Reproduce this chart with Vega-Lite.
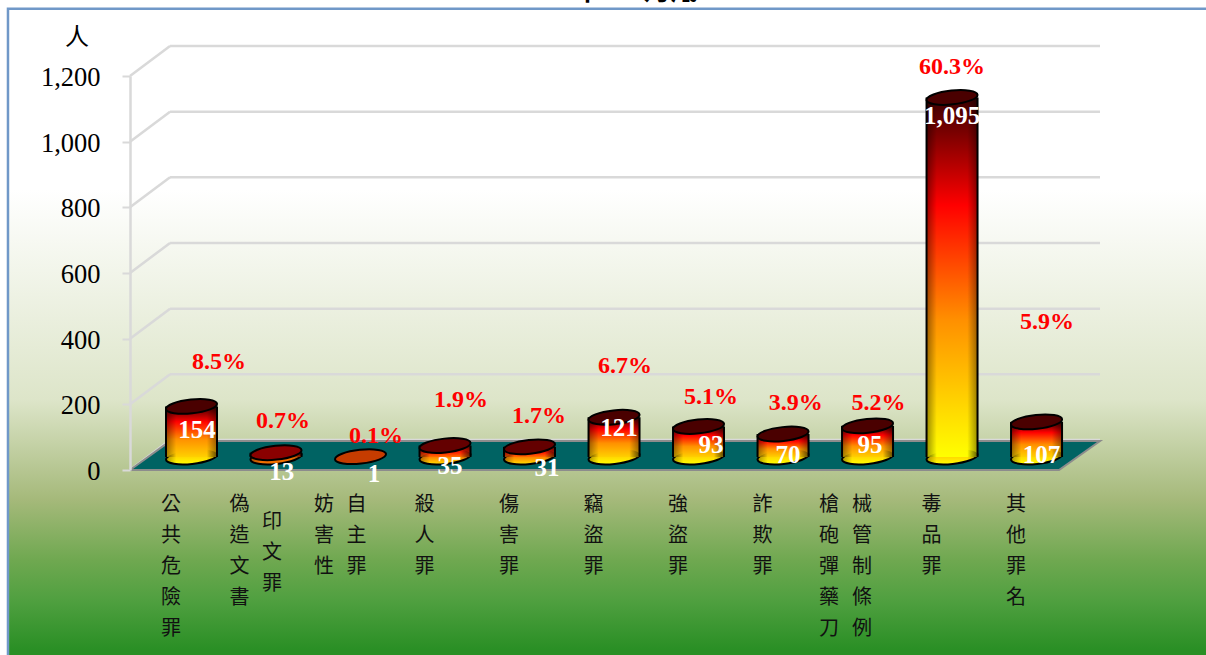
{
"$schema":"https://vega.github.io/schema/vega-lite/v6.json",
"width":970,"height":394,"autosize":"none",
"padding":{"left":130,"top":76,"right":106,"bottom":185},
"background":"#ffffff",
"config":{"view":{"stroke":null},"axisX":{"disable":true},
 "style":{
  "cnt":{"font":"Liberation Serif","fontSize":25,"fontWeight":"bold","color":"#ffffff","fill":"#ffffff","align":"center","baseline":"middle"},
  "pct":{"font":"Liberation Serif","fontSize":24,"fontWeight":"bold","color":"#ff0000","fill":"#ff0000","align":"center","baseline":"middle"},
  "cat":{"font":"Noto Sans CJK TC","fontSize":20,"color":"#111111","fill":"#111111","align":"center","baseline":"top","lineHeight":31,"lineBreak":"\n"}
 }},
"datasets":{
 "crimes":[
  {"i":0,"name":"公共危險罪","v":154,"pct":"8.5%","col1":"公\n共\n危\n險\n罪","col2":""},
  {"i":1,"name":"偽造文書印文罪","v":13,"pct":"0.7%","col1":"偽\n造\n文\n書","col2":"印\n文\n罪"},
  {"i":2,"name":"妨害性自主罪","v":1,"pct":"0.1%","col1":"妨\n害\n性","col2":"自\n主\n罪"},
  {"i":3,"name":"殺人罪","v":35,"pct":"1.9%","col1":"殺\n人\n罪","col2":""},
  {"i":4,"name":"傷害罪","v":31,"pct":"1.7%","col1":"傷\n害\n罪","col2":""},
  {"i":5,"name":"竊盜罪","v":121,"pct":"6.7%","col1":"竊\n盜\n罪","col2":""},
  {"i":6,"name":"強盜罪","v":93,"pct":"5.1%","col1":"強\n盜\n罪","col2":""},
  {"i":7,"name":"詐欺罪","v":70,"pct":"3.9%","col1":"詐\n欺\n罪","col2":""},
  {"i":8,"name":"槍砲彈藥刀械管制條例","v":95,"pct":"5.2%","col1":"槍\n砲\n彈\n藥\n刀","col2":"械\n管\n制\n條\n例"},
  {"i":9,"name":"毒品罪","v":1095,"pct":"60.3%","col1":"毒\n品\n罪","col2":""},
  {"i":10,"name":"其他罪名","v":107,"pct":"5.9%","col1":"其\n他\n罪\n名","col2":""}
 ],
 "levels":[{"level":0},{"level":200},{"level":400},{"level":600},{"level":800},{"level":1000},{"level":1200}],
 "floor":[{"fx":-0.728,"lo":0,"hi":0},{"fx":-0.254,"lo":0,"hi":88},{"fx":10.266,"lo":0,"hi":88},{"fx":10.751,"lo":88,"hi":88}]
},
"data":{"name":"crimes"},
"layer":[
 {"data":{"values":[{"a":1}]},
  "mark":{"type":"rect","stroke":"#7098c8","strokeWidth":2.5,"fill":{"gradient":"linear","x1":0,"y1":0,"x2":0,"y2":1,"stops":[{"offset":0,"color":"#ffffff"},{"offset":0.275,"color":"#ffffff"},{"offset":0.594,"color":"#dde5c9"},{"offset":0.746,"color":"#a5b97a"},{"offset":0.838,"color":"#6fa850"},{"offset":0.898,"color":"#50a040"},{"offset":0.973,"color":"#2a8f25"}]}},
  "encoding":{
   "x":{"datum":-2.172,"type":"quantitative","scale":{"domain":[-0.728,10.751],"nice":false,"zero":false,"padding":0}},
   "x2":{"datum":12.08},
   "y":{"datum":1405,"type":"quantitative","scale":{"domain":[0,1200],"nice":false,"zero":false}},
   "y2":{"datum":-600}
  }},
 {"data":{"name":"levels"},
  "mark":{"type":"rule","color":"#d9d9d9","strokeWidth":2.5,"yOffset":-30},
  "encoding":{
   "x":{"datum":-0.254,"type":"quantitative","scale":{"domain":[-0.728,10.751],"nice":false,"zero":false,"padding":0}},
   "x2":{"datum":10.751},
   "y":{"field":"level","type":"quantitative","scale":{"domain":[0,1200],"nice":false,"zero":false}}
  }},
 {"data":{"name":"levels"},
  "mark":{"type":"rule","color":"#d9d9d9","strokeWidth":2.5,"y2Offset":-30},
  "encoding":{
   "x":{"datum":-0.728,"type":"quantitative","scale":{"domain":[-0.728,10.751],"nice":false,"zero":false,"padding":0}},
   "x2":{"datum":-0.254},
   "y":{"field":"level","type":"quantitative","scale":{"domain":[0,1200],"nice":false,"zero":false}},
   "y2":{"field":"level"}
  }},
 {"data":{"name":"floor"},
  "mark":{"type":"area","orient":"vertical","color":"#006363","stroke":"#8c8c8c","strokeWidth":2,"opacity":1},
  "encoding":{
   "x":{"field":"fx","type":"quantitative","scale":{"domain":[-0.728,10.751],"nice":false,"zero":false,"padding":0}},
   "y":{"field":"hi","type":"quantitative","scale":{"domain":[0,1200],"nice":false,"zero":false}},
   "y2":{"field":"lo"}
  }},
 {"encoding":{
  "x":{"field":"i","type":"quantitative","scale":{"domain":[-0.728,10.751],"nice":false,"zero":false,"padding":0}},
  "y":{"field":"v","type":"quantitative","scale":{"domain":[0,1200],"nice":false,"zero":false},"title":null,
   "axis":{"zindex":1,"values":[0,200,400,600,800,1000,1200],"format":",d","grid":false,"title":null,"domainColor":"#d9d9d9","domainWidth":2.5,"tickColor":"#d9d9d9","tickWidth":2,"tickSize":8,"labelFont":"Liberation Serif","labelFontSize":26.5,"labelColor":"#000000","labelPadding":22,"labelOffset":1.5}}
 },
 "layer":[
 {"layer":[
  {"transform":[{"filter":"datum.v>=70"}],
   "mark":{"type":"point","shape":"M.9945,-.105C1.01,.043 .5776,.2105 .0283,.2685C-.521,.3265 -.979,.2533 -.9945,.105C-1.01,-.043 -.5776,-.2105 -.0283,-.2685C.521,-.3265 .979,-.2533 .9945,-.105Z","size":2632,"filled":true,"opacity":1,"fill":{"gradient":"linear","x1":0,"y1":0,"x2":0,"y2":1,"stops":[{"offset":0.4,"color":"#ffd000"},{"offset":1,"color":"#ffff00"}]},"stroke":"#000000","strokeWidth":2,"yOffset":-13},
   "encoding":{"y":{"datum":0,"type":"quantitative","scale":{"domain":[0,1200],"nice":false,"zero":false}}}},
  {"transform":[{"filter":"datum.v>=20 && datum.v<70"}],
   "mark":{"type":"point","shape":"M.9945,-.105C1.01,.043 .5776,.2105 .0283,.2685C-.521,.3265 -.979,.2533 -.9945,.105C-1.01,-.043 -.5776,-.2105 -.0283,-.2685C.521,-.3265 .979,-.2533 .9945,-.105Z","size":2632,"filled":true,"opacity":1,"fill":{"gradient":"linear","x1":0,"y1":0,"x2":0,"y2":1,"stops":[{"offset":0.4,"color":"#ff7000"},{"offset":1,"color":"#ffe000"}]},"stroke":"#000000","strokeWidth":2,"yOffset":-13},
   "encoding":{"y":{"datum":0,"type":"quantitative","scale":{"domain":[0,1200],"nice":false,"zero":false}}}},
  {"transform":[{"filter":"datum.v==13"}],
   "mark":{"type":"point","shape":"M.9945,-.105C1.01,.043 .5776,.2105 .0283,.2685C-.521,.3265 -.979,.2533 -.9945,.105C-1.01,-.043 -.5776,-.2105 -.0283,-.2685C.521,-.3265 .979,-.2533 .9945,-.105Z","size":2632,"filled":true,"opacity":1,"fill":"#f07000","stroke":"#000000","strokeWidth":2,"yOffset":-13},
   "encoding":{"y":{"datum":0,"type":"quantitative","scale":{"domain":[0,1200],"nice":false,"zero":false}}}},
  {"transform":[{"filter":"datum.v>=70 && datum.v<500"}],
   "mark":{"type":"bar","orient":"vertical","size":51,"yOffset":-13,"y2Offset":-13,"fill":{"gradient":"linear","x1":0,"y1":0,"x2":0,"y2":1,"stops":[{"offset":0,"color":"#3a0000"},{"offset":0.3,"color":"#ff0000"},{"offset":0.65,"color":"#ff9000"},{"offset":1,"color":"#ffd000"}]}},
   "encoding":{"y2":{"datum":0}}},
  {"transform":[{"filter":"datum.v>=500"}],
   "mark":{"type":"bar","orient":"vertical","size":51,"yOffset":-13,"y2Offset":-13,"fill":{"gradient":"linear","x1":0,"y1":0,"x2":0,"y2":1,"stops":[{"offset":0,"color":"#3a0000"},{"offset":0.3,"color":"#ff0000"},{"offset":0.62,"color":"#ff9000"},{"offset":0.88,"color":"#ffdd00"},{"offset":1,"color":"#ffff00"}]}},
   "encoding":{"y2":{"datum":0}}},
  {"transform":[{"filter":"datum.v>=13 && datum.v<70"}],
   "mark":{"type":"bar","orient":"vertical","size":51,"yOffset":-13,"y2Offset":-13,"fill":{"gradient":"linear","x1":0,"y1":0,"x2":0,"y2":1,"stops":[{"offset":0,"color":"#8a0000"},{"offset":0.6,"color":"#ff2000"},{"offset":1,"color":"#ff7000"}]}},
   "encoding":{"y2":{"datum":0}}},
  {"transform":[{"filter":"datum.v>=13"}],
   "mark":{"type":"bar","orient":"vertical","size":51,"yOffset":-13,"y2Offset":-13,"fill":{"gradient":"linear","x1":0,"y1":0,"x2":1,"y2":0,"stops":[{"offset":0,"color":"rgba(0,0,0,0.4)"},{"offset":0.2,"color":"rgba(0,0,0,0)"},{"offset":0.8,"color":"rgba(0,0,0,0)"},{"offset":1,"color":"rgba(0,0,0,0.4)"}]}},
   "encoding":{"y2":{"datum":0}}},
  {"transform":[{"filter":"datum.v>=13"}],
   "mark":{"type":"point","shape":"M.9945,-.105C1.01,.043 .5776,.2105 .0283,.2685C-.521,.3265 -.979,.2533 -.9945,.105C-1.01,-.043 -.5776,-.2105 -.0283,-.2685C.521,-.3265 .979,-.2533 .9945,-.105Z","size":2632,"filled":true,"opacity":1,"strokeWidth":0,"fill":{"gradient":"linear","x1":0,"y1":0,"x2":1,"y2":0,"stops":[{"offset":0,"color":"rgba(0,0,0,0.35)"},{"offset":0.2,"color":"rgba(0,0,0,0)"},{"offset":0.8,"color":"rgba(0,0,0,0)"},{"offset":1,"color":"rgba(0,0,0,0.35)"}]},"yOffset":-13},
   "encoding":{"y":{"datum":0,"type":"quantitative","scale":{"domain":[0,1200],"nice":false,"zero":false}}}},
  {"transform":[{"filter":"datum.v>=13"}],"mark":{"type":"rule","color":"#000000","strokeWidth":2,"xOffset":-25.5,"yOffset":-13,"y2Offset":-13},"encoding":{"y2":{"datum":0}}},
  {"transform":[{"filter":"datum.v>=13"}],"mark":{"type":"rule","color":"#000000","strokeWidth":2,"xOffset":25.5,"yOffset":-13,"y2Offset":-13},"encoding":{"y2":{"datum":0}}},
  {"transform":[{"filter":"datum.v>=70"}],
   "mark":{"type":"point","shape":"M.9945,-.105C1.01,.043 .5776,.2105 .0283,.2685C-.521,.3265 -.979,.2533 -.9945,.105C-1.01,-.043 -.5776,-.2105 -.0283,-.2685C.521,-.3265 .979,-.2533 .9945,-.105Z","size":2632,"filled":true,"opacity":1,"fill":"#4a0000","stroke":"#000000","strokeWidth":2,"yOffset":-13}},
  {"transform":[{"filter":"datum.v>=20 && datum.v<70"}],
   "mark":{"type":"point","shape":"M.9945,-.105C1.01,.043 .5776,.2105 .0283,.2685C-.521,.3265 -.979,.2533 -.9945,.105C-1.01,-.043 -.5776,-.2105 -.0283,-.2685C.521,-.3265 .979,-.2533 .9945,-.105Z","size":2632,"filled":true,"opacity":1,"fill":"#640000","stroke":"#000000","strokeWidth":2,"yOffset":-13}},
  {"transform":[{"filter":"datum.v==13"}],
   "mark":{"type":"point","shape":"M.9945,-.105C1.01,.043 .5776,.2105 .0283,.2685C-.521,.3265 -.979,.2533 -.9945,.105C-1.01,-.043 -.5776,-.2105 -.0283,-.2685C.521,-.3265 .979,-.2533 .9945,-.105Z","size":2632,"filled":true,"opacity":1,"fill":"#8a0000","stroke":"#000000","strokeWidth":2,"yOffset":-13}},
  {"transform":[{"filter":"datum.v==1"}],
   "mark":{"type":"point","shape":"M.9945,-.105C1.01,.043 .5776,.2105 .0283,.2685C-.521,.3265 -.979,.2533 -.9945,.105C-1.01,-.043 -.5776,-.2105 -.0283,-.2685C.521,-.3265 .979,-.2533 .9945,-.105Z","size":2632,"filled":true,"opacity":1,"fill":"#c63c00","stroke":"#000000","strokeWidth":2,"yOffset":-13}}
 ]},
 {"encoding":{"text":{"field":"v","format":",d"}},
  "layer":[
  {"transform":[{"filter":"datum.i==0"}],"mark":{"type":"text","style":"cnt","dx":5.5,"dy":10.6}},
  {"transform":[{"filter":"datum.i==1"}],"mark":{"type":"text","style":"cnt","dx":5.7,"dy":6.6}},
  {"transform":[{"filter":"datum.i==2"}],"mark":{"type":"text","style":"cnt","dx":13.5,"dy":4.3}},
  {"transform":[{"filter":"datum.i==3"}],"mark":{"type":"text","style":"cnt","dx":5,"dy":7.5}},
  {"transform":[{"filter":"datum.i==4"}],"mark":{"type":"text","style":"cnt","dx":17.5,"dy":8}},
  {"transform":[{"filter":"datum.i==5"}],"mark":{"type":"text","style":"cnt","dx":5,"dy":-2}},
  {"transform":[{"filter":"datum.i==6"}],"mark":{"type":"text","style":"cnt","dx":12.5,"dy":6}},
  {"transform":[{"filter":"datum.i==7"}],"mark":{"type":"text","style":"cnt","dx":5,"dy":8}},
  {"transform":[{"filter":"datum.i==8"}],"mark":{"type":"text","style":"cnt","dx":2.5,"dy":6}},
  {"transform":[{"filter":"datum.i==9"}],"mark":{"type":"text","style":"cnt","dx":0,"dy":5.5}},
  {"transform":[{"filter":"datum.i==10"}],"mark":{"type":"text","style":"cnt","dx":5,"dy":20}}
 ]},
 {"encoding":{"text":{"field":"pct"}},
  "layer":[
  {"transform":[{"filter":"datum.i==0"}],"mark":{"type":"text","style":"pct","dx":27.5,"dy":-57.4}},
  {"transform":[{"filter":"datum.i==1"}],"mark":{"type":"text","style":"pct","dx":7,"dy":-45}},
  {"transform":[{"filter":"datum.i==2"}],"mark":{"type":"text","style":"pct","dx":15.5,"dy":-34}},
  {"transform":[{"filter":"datum.i==3"}],"mark":{"type":"text","style":"pct","dx":16,"dy":-58.5}},
  {"transform":[{"filter":"datum.i==4"}],"mark":{"type":"text","style":"pct","dx":9.5,"dy":-43.8}},
  {"transform":[{"filter":"datum.i==5"}],"mark":{"type":"text","style":"pct","dx":11,"dy":-64}},
  {"transform":[{"filter":"datum.i==6"}],"mark":{"type":"text","style":"pct","dx":12.5,"dy":-42.5}},
  {"transform":[{"filter":"datum.i==7"}],"mark":{"type":"text","style":"pct","dx":12.7,"dy":-44}},
  {"transform":[{"filter":"datum.i==8"}],"mark":{"type":"text","style":"pct","dx":11,"dy":-36}},
  {"transform":[{"filter":"datum.i==9"}],"mark":{"type":"text","style":"pct","dx":0,"dy":-43.5}},
  {"transform":[{"filter":"datum.i==10"}],"mark":{"type":"text","style":"pct","dx":10.5,"dy":-113}}
 ]},
 {"encoding":{"y":{"datum":0,"type":"quantitative","scale":{"domain":[0,1200],"nice":false,"zero":false}}},
  "layer":[
  {"transform":[{"filter":"datum.col2==''"}],"mark":{"type":"text","style":"cat","dx":-20.5,"dy":25},"encoding":{"text":{"field":"col1"}}},
  {"transform":[{"filter":"datum.i==1 || datum.i==2"}],"mark":{"type":"text","style":"cat","dx":-36.5,"dy":25},"encoding":{"text":{"field":"col1"}}},
  {"transform":[{"filter":"datum.i==8"}],"mark":{"type":"text","style":"cat","dx":-38.5,"dy":25},"encoding":{"text":{"field":"col1"}}},
  {"transform":[{"filter":"datum.i==1"}],"mark":{"type":"text","style":"cat","dx":-4,"dy":42},"encoding":{"text":{"field":"col2"}}},
  {"transform":[{"filter":"datum.i==2"}],"mark":{"type":"text","style":"cat","dx":-4,"dy":25},"encoding":{"text":{"field":"col2"}}},
  {"transform":[{"filter":"datum.i==8"}],"mark":{"type":"text","style":"cat","dx":-5.5,"dy":25},"encoding":{"text":{"field":"col2"}}}
 ]}
 ]},
 {"data":{"values":[{"t":"人"}]},
  "mark":{"type":"text","font":"Noto Sans CJK TC","fontSize":24,"color":"#000000","align":"center","baseline":"middle","dy":-38},
  "encoding":{"x":{"datum":-1.355,"type":"quantitative","scale":{"domain":[-0.728,10.751],"nice":false,"zero":false,"padding":0}},"y":{"datum":1200,"type":"quantitative","scale":{"domain":[0,1200],"nice":false,"zero":false}},"text":{"field":"t"}}},
 {"data":{"values":[{"t":"106 年 10 月底"}]},
  "mark":{"type":"text","font":"Noto Sans CJK TC","fontSize":27,"fontWeight":"bold","color":"#000000","align":"center","baseline":"middle","dy":-84},
  "encoding":{"x":{"datum":4.93,"type":"quantitative","scale":{"domain":[-0.728,10.751],"nice":false,"zero":false,"padding":0}},"y":{"datum":1200,"type":"quantitative","scale":{"domain":[0,1200],"nice":false,"zero":false}},"text":{"field":"t"}}}
]
}
